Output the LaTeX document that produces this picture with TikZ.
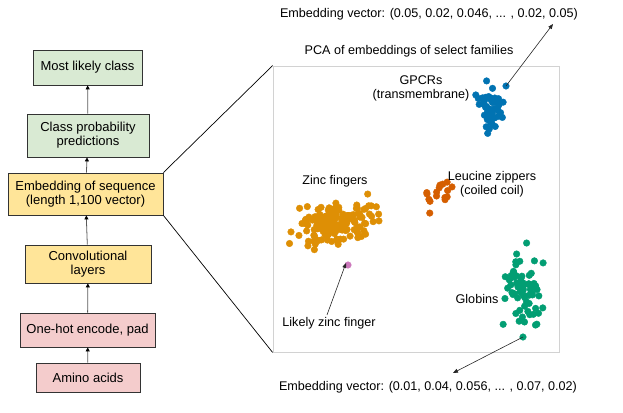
\documentclass[tikz,border=0pt]{standalone}
\usepackage{fontspec}
\setmainfont{Liberation Sans}
\usetikzlibrary{arrows.meta}
\definecolor{stagegreen}{RGB}{217, 234, 211}
\definecolor{stageyellow}{RGB}{255, 229, 153}
\definecolor{stagepink}{RGB}{244, 204, 204}
\definecolor{framegray}{RGB}{210, 210, 210}
\definecolor{linegray}{RGB}{90, 90, 90}
\definecolor{gpcrblue}{RGB}{1, 115, 178}
\definecolor{zincorange}{RGB}{222, 143, 5}
\definecolor{globingreen}{RGB}{2, 158, 115}
\definecolor{leucinered}{RGB}{213, 94, 0}
\definecolor{likelypink}{RGB}{204, 120, 188}
\tikzset{
  stagebox/.style={draw=black!80, line width=0.8pt, align=center, inner sep=0pt,
    font=\fontsize{13}{13.8}\selectfont},
  flowarrow/.style={draw=linegray, line width=0.8pt, -{Triangle[length=4pt,width=4pt,black]}},
  callout/.style={draw=black!85, line width=0.6pt, -{Triangle[length=5pt,width=4pt]}},
  plotlabel/.style={font=\fontsize{12.6}{14}\selectfont, align=center, inner sep=0pt},
  dot/.style={draw=white, line width=0.4pt}
}
\begin{document}
\begin{tikzpicture}[x=1pt, y=-1pt]
    \useasboundingbox (0,0) rectangle (623,412);
    \pgfmathsetseed{4242}

    % Left column: pipeline stages
    \node[stagebox, fill=stagegreen, minimum width=109pt, minimum height=35pt] (likely) at (87.5,67.5) {Most likely class};
    \node[stagebox, fill=stagegreen, minimum width=122pt, minimum height=43pt] (probs) at (88,135.5) {Class probability\\predictions};
    \node[stagebox, fill=stageyellow, minimum width=155pt, minimum height=42pt] (embed) at (85.5,194) {Embedding of sequence\\(length 1,100 vector)};
    \node[stagebox, fill=stageyellow, minimum width=126pt, minimum height=38pt] (conv) at (88,264) {Convolutional\\layers};
    \node[stagebox, fill=stagepink, minimum width=135pt, minimum height=34pt] (onehot) at (87.5,330) {One-hot encode, pad};
    \node[stagebox, fill=stagepink, minimum width=104pt, minimum height=29pt] (amino) at (88,377.5) {Amino acids};

    \draw[flowarrow] (amino) -- (onehot);
    \draw[flowarrow] (onehot) -- (conv);
    \draw[flowarrow] (conv) -- (embed);
    \draw[flowarrow] (embed) -- (probs);
    \draw[flowarrow] (probs) -- (likely);

    % PCA panel
    \node[draw=framegray, line width=0.8pt, minimum width=286pt, minimum height=286pt, inner sep=0pt] (pcaframe) at (416,209) {};
    \draw[black, line width=0.7pt] (embed.north east) -- (pcaframe.north west);
    \draw[black, line width=0.7pt] (embed.south east) -- (pcaframe.south west);
    \node[plotlabel] (pcatitle) at (409,51) {PCA of embeddings of select families};

    % Zinc fingers
    \foreach \i in {1,...,160} {
        \pgfmathsetmacro{\px}{336+19*(rand+rand+rand)}
        \pgfmathsetmacro{\py}{223+10*(rand+rand+rand)-0.12*(\px-336)}
        \fill[dot, zincorange] (\px,\py) circle (3.3pt);
    }
    % GPCRs
    \foreach \i in {1,...,55} {
        \pgfmathsetmacro{\px}{490+6.5*(rand+rand+rand)}
        \pgfmathsetmacro{\py}{107+11*(rand+rand+rand)}
        \fill[dot, gpcrblue] (\px,\py) circle (3.3pt);
    }
    % Leucine zippers
    \foreach \i in {1,...,16} {
        \pgfmathsetmacro{\px}{436+9*(rand+rand+rand)}
        \pgfmathsetmacro{\py}{194+8*(rand+rand+rand)}
        \fill[dot, leucinered] (\px,\py) circle (3.3pt);
    }
    % Globins
    \foreach \i in {1,...,70} {
        \pgfmathsetmacro{\px}{522+9*(rand+rand+rand)}
        \pgfmathsetmacro{\py}{288+19*(rand+rand+rand)}
        \fill[dot, globingreen] (\px,\py) circle (3.3pt);
    }

    % Single highlighted points
    \coordinate (gpcrout) at (506,86);
    \coordinate (globinout) at (523,337);
    \coordinate (likelypt) at (348,265);
    \fill[dot, gpcrblue] (gpcrout) circle (3.3pt);
    \fill[dot, globingreen] (globinout) circle (3.3pt);
    \fill[dot, likelypink] (likelypt) circle (3.3pt);

    % Cluster labels
    \node[plotlabel] (gpcrlabel) at (421,88) {GPCRs\\(transmembrane)};
    \node[plotlabel] (zinclabel) at (335,181) {Zinc fingers};
    \node[plotlabel] (leucinelabel) at (492,184) {Leucine zippers\\(coiled coil)};
    \node[plotlabel] (globinlabel) at (477,299) {Globins};
    \node[plotlabel] (likelylabel) at (329,323) {Likely zinc finger};

    % Embedding vectors
    \node[plotlabel] (topvec) at (429,14) {Embedding vector: (0.05, 0.02, 0.046, ... , 0.02, 0.05)};
    \node[plotlabel] (bottomvec) at (428,387) {Embedding vector: (0.01, 0.04, 0.056, ... , 0.07, 0.02)};

    \draw[callout] (gpcrout) -- (553,24);
    \draw[callout] (globinout) -- (453,373);
    \draw[callout] (likelylabel.north) ++(-2,-2) -- ([shift={(-2pt,2pt)}]likelypt);
\end{tikzpicture}
\end{document}
